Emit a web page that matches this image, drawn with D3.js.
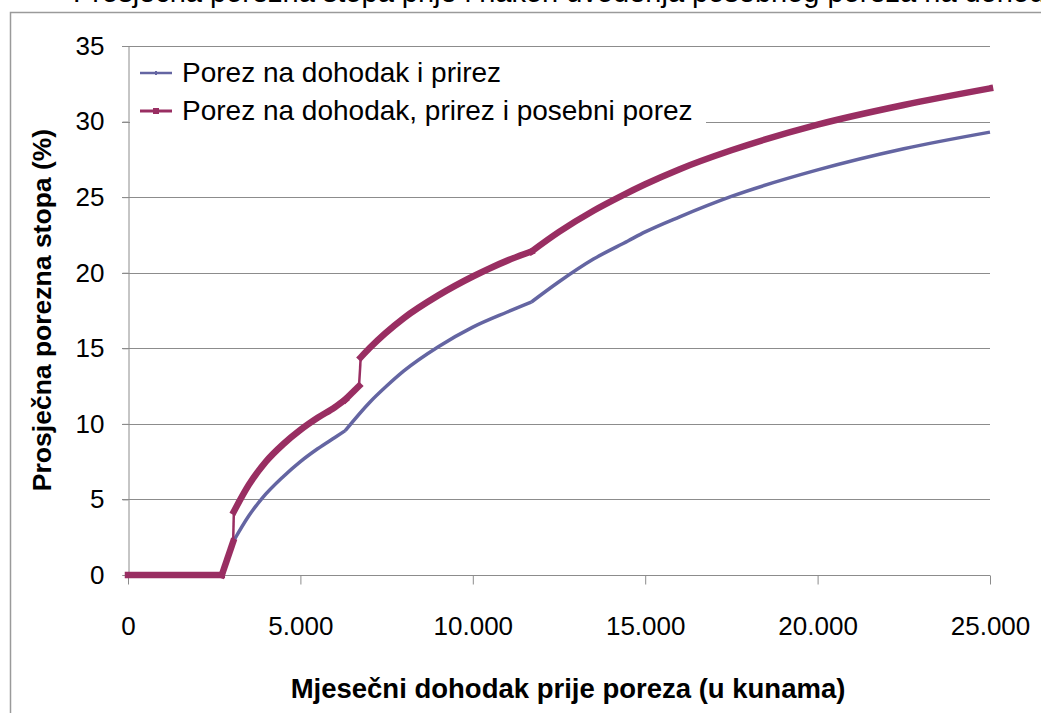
<!DOCTYPE html>
<html>
<head>
<meta charset="utf-8">
<script src="https://cdn.jsdelivr.net/npm/d3@7"></script>
<style>
  body { margin: 0; background: #fff; }
  svg { display: block; font-family: "Liberation Sans", Arial, sans-serif; }
</style>
</head>
<body>
<svg id="chart"></svg>
<script>
// Data (income in kn, rate in %)
const seriesNames = ["Porez na dohodak i prirez", "Porez na dohodak, prirez i posebni porez"];

const baseIncome = [0, 2750, 3050, 3500, 3900, 4500, 5000, 5500, 6000, 6300, 7000, 7500, 8000, 9000, 10000, 11000, 11700, 12500, 13500, 14500, 15000, 16000, 17500, 20000, 22500, 25000];
const baseRate   = [0, 0, 2.2, 3.9, 5.1, 6.5, 7.5, 8.35, 9.1, 9.55, 11.4, 12.5, 13.5, 15.1, 16.4, 17.4, 18.06, 19.4, 20.9, 22.1, 22.7, 23.7, 25.05, 26.8, 28.2, 29.3];
// bracket edges where the curve bends sharply
const baseKinks = [2750, 3050, 6300, 11700];

const specialIncome = [0, 2720, 3050, 3070, 3500, 4000, 4500, 5000, 5500, 6000, 6300, 6700, 6750, 7000, 8000, 9000, 10000, 10500, 11000, 11700, 12500, 13500, 14330, 15000, 16000, 17500, 20000, 22500, 25000];
const specialRate   = [0, 0, 2.2, 4.2, 5.95, 7.5, 8.65, 9.6, 10.4, 11.1, 11.6, 12.5, 14.4, 15.0, 17.0, 18.5, 19.75, 20.3, 20.8, 21.4, 22.7, 24.1, 25.1, 25.85, 26.85, 28.1, 29.8, 31.1, 32.2];
const specialKinks = [2720, 3050, 3070, 6300, 6700, 6750, 11700];

const xTicks = [0, 5000, 10000, 15000, 20000, 25000];
const yTicks = [0, 5, 10, 15, 20, 25, 30, 35];

const width = 1041;
const height = 713;
const blue = "#6465a2";
const red = "#992e62";
const gridColor = "#8c8c8c";

const svg = d3.select("#chart")
    .attr("width", width)
    .attr("height", height);

// title cut off at the top of the picture
svg.append("text")
    .attr("x", 73)
    .attr("y", 2)
    .attr("font-size", 29)
    .attr("fill", "#000")
    .text("Prosječna porezna stopa prije i nakon uvođenja posebnog poreza na dohodak");

// chart frame (runs off the right and bottom)
svg.append("path")
    .attr("d", `M10.5,${height + 10} V12.5 H${width + 10}`)
    .attr("fill", "none")
    .attr("stroke", "#9a9a9a")
    .attr("stroke-width", 1.5);

const x = d3.scaleLinear().domain([0, 25000]).range([128, 990]);
const y = d3.scaleLinear().domain([0, 35]).range([575, 46]);

const fmt = d => d === 0 ? "0" : d3.format(",")(d).replace(/,/g, ".");

// gridlines
svg.append("g")
    .selectAll("line")
    .data(yTicks.filter(d => d > 0))
    .join("line")
    .attr("x1", 122)
    .attr("x2", x(25000))
    .attr("y1", d => Math.round(y(d)) + 0.5)
    .attr("y2", d => Math.round(y(d)) + 0.5)
    .attr("stroke", gridColor)
    .attr("stroke-width", 1);

// y axis
const yAxis = svg.append("g")
    .attr("transform", `translate(${x(0) + 0.5},0)`)
    .call(d3.axisLeft(y).tickValues(yTicks).tickSize(6).tickPadding(18).tickFormat(d => d));
yAxis.selectAll("line, path").attr("stroke", gridColor);
yAxis.selectAll("text").attr("font-size", 26).attr("fill", "#000")
    .attr("font-family", "Liberation Sans, Arial, sans-serif");

// x axis
const xAxis = svg.append("g")
    .attr("transform", `translate(0,${y(0) + 0.5})`)
    .call(d3.axisBottom(x).tickValues(xTicks).tickSize(9).tickPadding(32).tickFormat(fmt));
xAxis.selectAll("line, path").attr("stroke", gridColor);
xAxis.select(".domain").attr("d", `M${x(0)},0H${x(25000)}`);
xAxis.selectAll("text").attr("font-size", 26).attr("fill", "#000")
    .attr("font-family", "Liberation Sans, Arial, sans-serif");

// axis titles
svg.append("text")
    .attr("x", 568)
    .attr("y", 698)
    .attr("text-anchor", "middle")
    .attr("font-size", 27.5)
    .attr("font-weight", "bold")
    .text("Mjesečni dohodak prije poreza (u kunama)");

svg.append("text")
    .attr("transform", "translate(51,310) rotate(-90)")
    .attr("text-anchor", "middle")
    .attr("font-size", 26.5)
    .attr("font-weight", "bold")
    .text("Prosječna porezna stopa (%)");

const line = d3.line()
    .x(d => x(d[0]))
    .y(d => y(d[1]))
    .curve(d3.curveMonotoneX);

// cut a series into smooth pieces at its kinks (kink point shared by both pieces)
function pieces(pts, kinks) {
    const out = [[pts[0]]];
    for (let i = 1; i < pts.length; i++) {
        out[out.length - 1].push(pts[i]);
        if (kinks.includes(pts[i][0]) && i < pts.length - 1) out.push([pts[i]]);
    }
    return out;
}

// first series
const basePts = baseIncome.map((v, i) => [v, baseRate[i]]);
svg.append("path")
    .attr("d", pieces(basePts, baseKinks).map(p => line(p)).join(""))
    .attr("fill", "none")
    .attr("stroke", blue)
    .attr("stroke-width", 3.5)
    .attr("stroke-linejoin", "round");

// second series: thick pieces, thin jumps where the special tax kicks in
const specialPts = specialIncome.map((v, i) => [v, specialRate[i]]);
const specialPieces = pieces(specialPts, specialKinks);
const isJump = p => p.length === 2 && p[1][0] - p[0][0] < 100;

svg.append("g")
    .selectAll("path")
    .data(specialPieces)
    .join("path")
    .attr("d", d => line(d))
    .attr("fill", "none")
    .attr("stroke", red)
    .attr("stroke-width", d => isJump(d) ? 2.5 : 6.5)
    .attr("stroke-linecap", d => isJump(d) ? "butt" : "square")
    .attr("stroke-linejoin", "round");

// legend
const legend = svg.append("g");
legend.append("rect")
    .attr("x", 130).attr("y", 55)
    .attr("width", 576).attr("height", 73)
    .attr("fill", "#fff");

const legendRows = legend.selectAll("g")
    .data(seriesNames)
    .join("g")
    .attr("transform", (d, i) => `translate(140,${73 + i * 38})`);

legendRows.append("line")
    .attr("x1", 0).attr("x2", 32)
    .attr("stroke", (d, i) => i === 0 ? blue : red)
    .attr("stroke-width", (d, i) => i === 0 ? 2.5 : 3);

legendRows.append("rect")
    .attr("x", (d, i) => i === 0 ? 15 : 13)
    .attr("y", (d, i) => i === 0 ? -2 : -3)
    .attr("width", (d, i) => i === 0 ? 2 : 6)
    .attr("height", (d, i) => i === 0 ? 4 : 6)
    .attr("fill", (d, i) => i === 0 ? blue : red);

legendRows.append("text")
    .attr("x", 42)
    .attr("y", 9)
    .attr("font-size", 28)
    .text(d => d);
</script>
</body>
</html>
